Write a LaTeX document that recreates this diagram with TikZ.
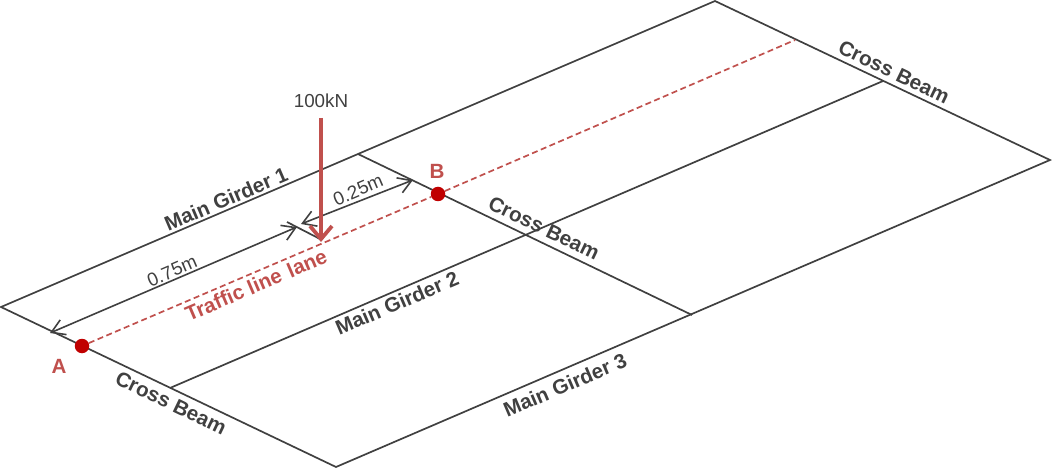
\documentclass[tikz,border=0pt]{standalone}
\usepackage{fontspec}
\setmainfont{Liberation Sans}
\usetikzlibrary{arrows.meta}

\definecolor{linegrey}{HTML}{404040}
\definecolor{loadred}{HTML}{C0504D}
\definecolor{pointred}{HTML}{C00000}

\tikzset{
    beamline/.style={draw=linegrey, line width=1.7pt},
    dimline/.style={draw=linegrey, line width=1.6pt, {Straight Barb[length=13pt,width=16pt]}-{Straight Barb[length=13pt,width=16pt]}},
    laneline/.style={draw=loadred, line width=1.7pt, dash pattern=on 6pt off 3.5pt},
    beamlabel/.style={font=\bfseries\fontsize{20.6}{22}\selectfont, text=linegrey, inner sep=0pt},
    dimlabel/.style={font=\fontsize{18.8}{22}\selectfont, text=linegrey, inner sep=0pt},
    redlabel/.style={font=\bfseries\fontsize{20.6}{22}\selectfont, text=loadred, inner sep=0pt},
    loadpoint/.style={circle, fill=pointred, inner sep=0pt, minimum size=14.5pt}
}

\begin{document}
\begin{tikzpicture}[x=1pt,y=-1pt]
        \useasboundingbox (0,0) rectangle (1052,470);

        % Esquinas de la losa
        \coordinate (NW) at (1,307);
        \coordinate (NN) at (715,1);
        \coordinate (NE) at (1050,160);
        \coordinate (SS) at (336,467);

        % Extremos de las vigas interiores
        \coordinate (C1) at (358,154);
        \coordinate (C2) at (692,315);
        \coordinate (G1) at (170,388);
        \coordinate (G2) at (883,81);

        % Contorno y vigas
        \draw[beamline] (NW) -- (NN) -- (NE) -- (SS) -- cycle;
        \draw[beamline] (C1) -- (C2);
        \draw[beamline] (G1) -- (G2);

        % Carril de trafico
        \node[loadpoint] (A) at (82,346) {};
        \node[loadpoint] (B) at (438,194) {};
        \coordinate (laneEnd) at (795,40);
        \draw[laneline] (A) -- (B);
        \draw[laneline] (B) -- (laneEnd);

        % Cotas
        \coordinate (dimA) at (50,333);
        \coordinate (dimM) at (297,227);
        \coordinate (dimN) at (301,224);
        \coordinate (dimB) at (413,180);
        \coordinate (tickA) at (287,222);
        \coordinate (tickB) at (322,240);
        \draw[dimline] (dimA) -- (dimM);
        \draw[dimline] (dimN) -- (dimB);
        \draw[beamline] (tickA) -- (tickB);

        % Carga
        \node[dimlabel] (load) at (321,101) {100kN};
        \coordinate (loadTop) at (321,118);
        \coordinate (loadEnd) at (321,242);
        \draw[draw=loadred, line width=4pt, -{Straight Barb[length=13pt,width=22pt,line width=3.8pt]}] (loadTop) -- (loadEnd);

        % Etiquetas
        \node[beamlabel, rotate=23.2] (girderA) at (226,199) {Main Girder 1};
        \node[beamlabel, rotate=23.2] (girderB) at (397,303) {Main Girder 2};
        \node[beamlabel, rotate=23.2] (girderC) at (565,385) {Main Girder 3};
        \node[beamlabel, rotate=-25.7] (crossA) at (171,403) {Cross Beam};
        \node[beamlabel, rotate=-25.7] (crossB) at (544,228) {Cross Beam};
        \node[beamlabel, rotate=-25.7] (crossC) at (894,72) {Cross Beam};
        \node[dimlabel, rotate=23.2] (dimlong) at (172,271) {0.75m};
        \node[dimlabel, rotate=23.2] (dimshort) at (358,190) {0.25m};
        \node[redlabel, rotate=23.2] (lane) at (256,285) {Traffic line\hspace{2pt} lane};
        \node[redlabel] (labelA) at (59,366) {A};
        \node[redlabel] (labelB) at (437,171) {B};
    \end{tikzpicture}
\end{document}
